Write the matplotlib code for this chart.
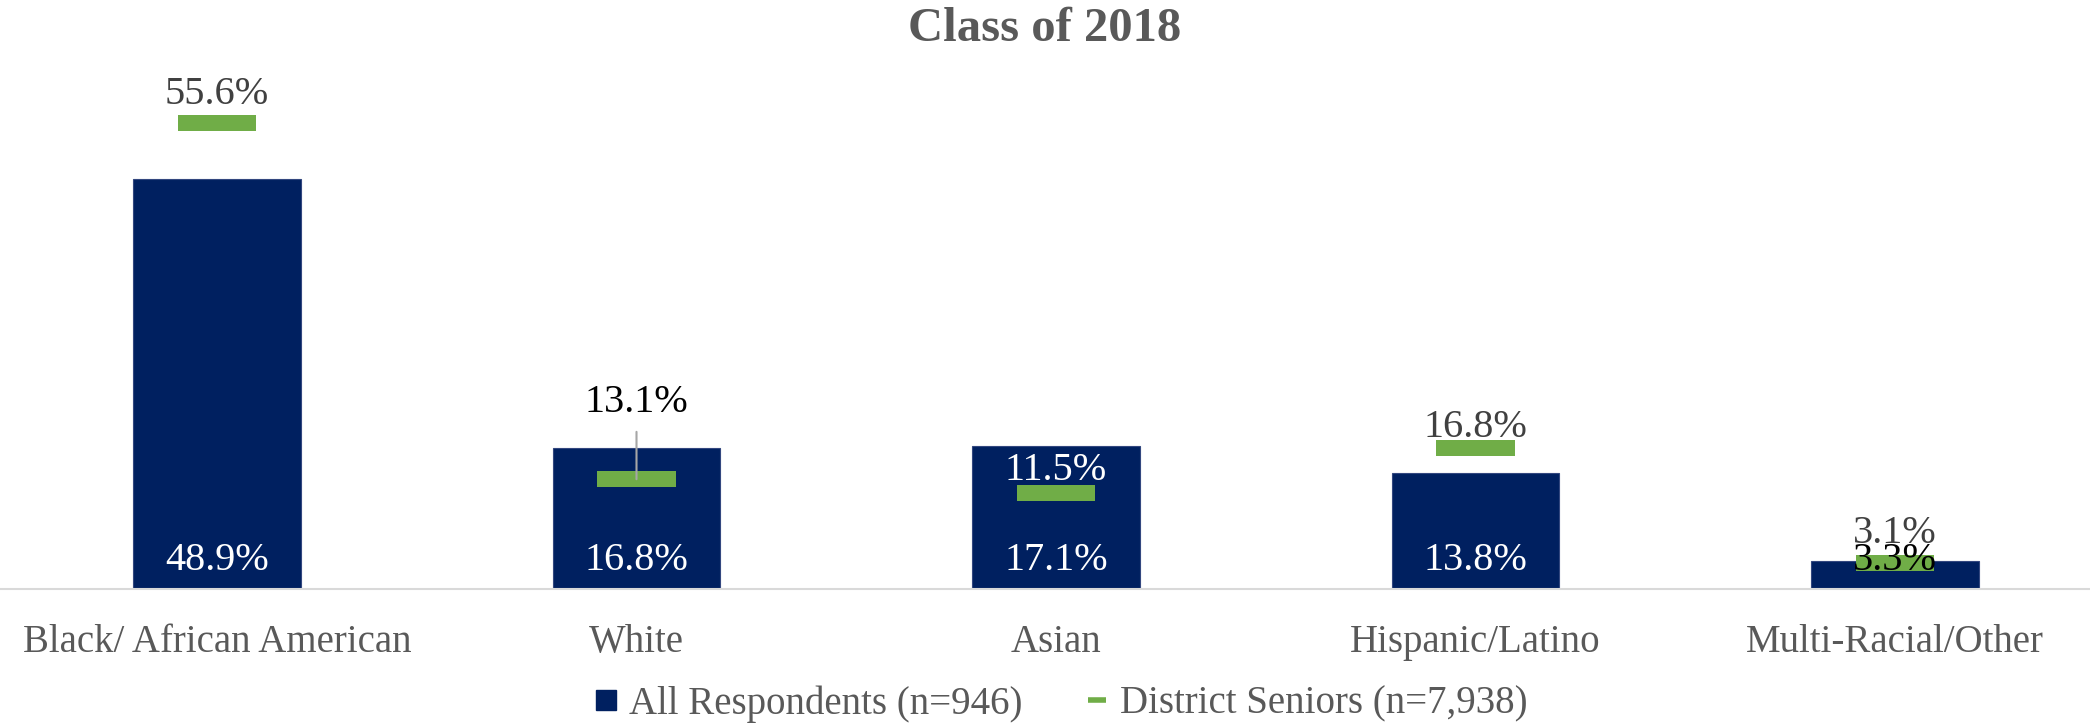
import matplotlib
matplotlib.use("Agg")
import matplotlib.pyplot as plt
from matplotlib.lines import Line2D

# -----------------------------
# Data
# -----------------------------
categories = ["Black/ African American", "White", "Asian", "Hispanic/Latino", "Multi-Racial/Other"]
respondents = [48.9, 16.8, 17.1, 13.8, 3.3]
district = [55.6, 13.1, 11.5, 16.8, 3.1]

navy = "#002060"
green = "#70ad47"
gray = "#595959"

# label styling (offsets in px above marker centre)
green_label_colors = ["#404040", "black", "white", "#404040", "#404040"]
green_label_offsets = [29, 77, 22, 21, 30]
bar_label_colors = ["white", "white", "white", "white", "black"]

plt.rcParams["font.family"] = ["Liberation Serif", "DejaVu Serif"]
px = 72 / 100  # points per pixel at dpi 100

fig = plt.figure(figsize=(20.9, 7.24), dpi=100)
ax = fig.add_axes([0, (724 - 589) / 724, 1, (589 - 60) / 724])

x = list(range(len(categories)))

# -----------------------------
# Bars + district markers
# -----------------------------
ax.bar(x, respondents, width=0.4, color=navy, edgecolor="#33477f", linewidth=0.8, zorder=2)
ax.errorbar(x, district, xerr=0.093, fmt="none", ecolor=green, elinewidth=16 * px, capsize=0, zorder=3)

# bar value labels at the base
for i, v in enumerate(respondents):
    ax.annotate(f"{v:.1f}%", (i, 0), xytext=(0, 28 * px), textcoords="offset points",
                ha="center", va="center", fontsize=29, color=bar_label_colors[i], zorder=5)

# district labels above markers
for i, v in enumerate(district):
    arrow = None
    if i == 1:
        arrow = dict(arrowstyle="-", color="#a6a6a6", lw=1.5, shrinkA=6, shrinkB=0)
    ax.annotate(f"{v:.1f}%", (i, v), xytext=(0, green_label_offsets[i] * px), textcoords="offset points",
                ha="center", va="center", fontsize=29, color=green_label_colors[i],
                arrowprops=arrow, zorder=5)

# -----------------------------
# Axes styling
# -----------------------------
ax.set_xlim(-217 / 419.5, (2090 - 217) / 419.5)
ax.set_ylim(0, 529 / 8.38)
ax.set_xticks(x)
ax.set_xticklabels(categories, fontsize=28, color=gray)
ax.tick_params(axis="x", length=0, pad=25)
ax.set_yticks([])
for s in ["top", "right", "left"]:
    ax.spines[s].set_visible(False)
ax.spines["bottom"].set_color("#d9d9d9")
ax.spines["bottom"].set_linewidth(1.5)
ax.patch.set_alpha(0)

fig.text(0.5, 1 - 29 / 724, "Class of 2018", ha="center", va="center",
         fontsize=35, fontweight="bold", color=gray)

handles = [
    Line2D([0], [0], marker="s", linestyle="none", color=navy, markersize=15),
    Line2D([0], [0], marker="_", linestyle="none", color=green, markersize=13, markeredgewidth=4),
]
fig.legend(handles, ["All Respondents (n=946)", "District Seniors (n=7,938)"],
           loc="center", bbox_to_anchor=(0.5077, 20 / 724), ncol=2, frameon=False,
           fontsize=28, labelcolor=gray, handlelength=0.6, handletextpad=0.3,
           columnspacing=1.6, borderpad=0)

fig.savefig("out.png", dpi=100)
